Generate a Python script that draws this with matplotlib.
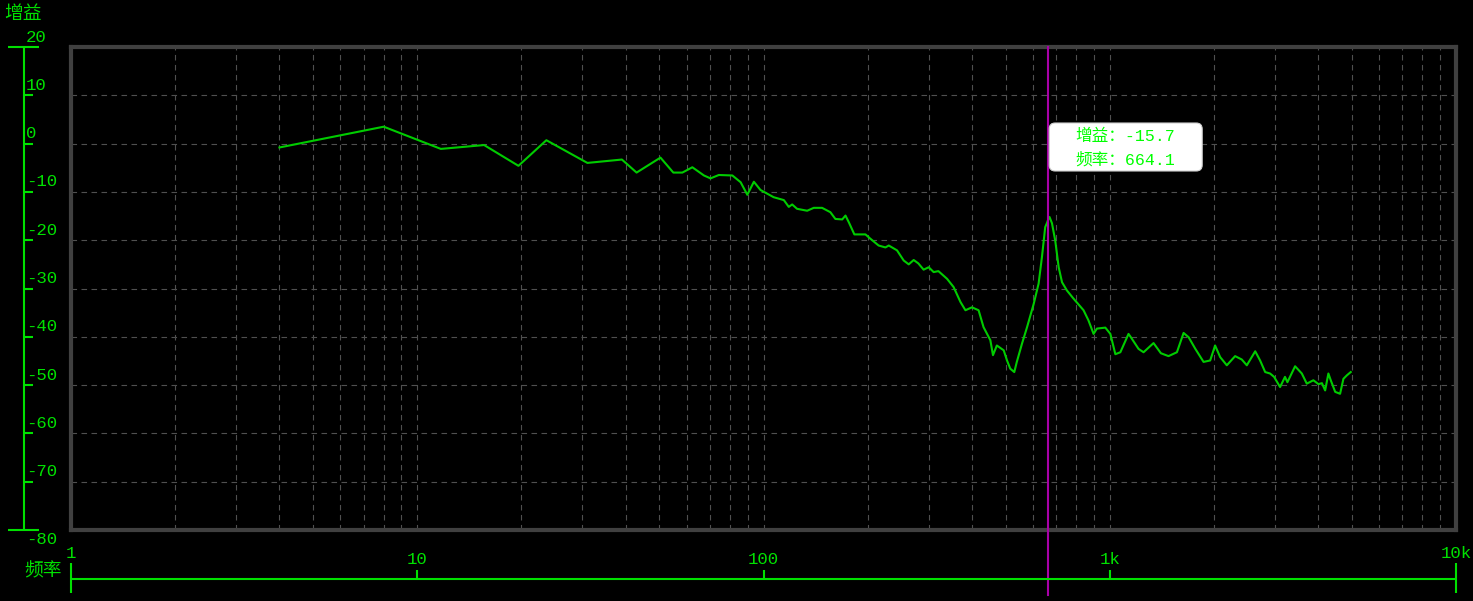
import matplotlib
matplotlib.use('Agg')
import matplotlib.pyplot as plt
from matplotlib.patches import FancyBboxPatch
from matplotlib.transforms import IdentityTransform

# ---------------- data ----------------
freq = [4, 8, 11.7, 15.6, 19.6, 23.6, 31, 39, 43, 50.4, 54.9, 58.3, 62.3, 67.3,
        70.3, 74.3, 81.3, 85.9, 89.8, 93.8, 98, 107, 114.5, 118.3, 121, 125,
        133.7, 139.7, 147.6, 156, 161.3, 168.8, 172.5, 176.4, 183, 197, 203.6,
        215, 225, 230, 243, 254, 262.7, 271.5, 280, 290, 300, 310, 320, 339,
        354, 370.6, 383, 400, 418, 432, 452, 460, 472, 494, 505, 516, 530, 539,
        558, 577, 603, 623, 637, 651, 659, 664.1, 670, 681, 696, 712, 728, 752,
        786, 822, 840, 868, 898, 918, 971, 1004, 1038, 1073, 1133, 1151, 1211,
        1252, 1338, 1405, 1478, 1563, 1634, 1690, 1767, 1866, 1950, 2015, 2084,
        2178, 2302, 2406, 2488, 2631, 2718, 2811, 2904, 2983, 3104, 3207, 3259,
        3430, 3587, 3707, 3873, 4006, 4100, 4189, 4280, 4348, 4478, 4626, 4730,
        4836, 4966]
gain = [-0.8, 3.5, -1.1, -0.3, -4.6, 0.7, -4.0, -3.3, -6.0, -2.9, -6.0, -6.0,
        -4.9, -6.6, -7.2, -6.5, -6.6, -8.0, -10.6, -7.9, -9.6, -11.1, -11.7,
        -13.1, -12.6, -13.5, -13.9, -13.3, -13.3, -14.2, -15.6, -15.7, -14.9,
        -16.3, -18.8, -18.8, -19.7, -21.1, -21.5, -21.1, -22.1, -24.2, -25.0,
        -24.1, -24.8, -26.1, -25.6, -26.6, -26.4, -28.0, -29.7, -32.8, -34.5,
        -33.9, -34.5, -38.0, -40.7, -43.8, -41.8, -42.8, -44.9, -46.6, -47.3,
        -45.2, -41.4, -38.0, -33.2, -29.0, -23.5, -17.3, -16.4, -15.7, -15.2,
        -16.5, -20.1, -25.6, -28.7, -30.4, -32.1, -33.7, -34.5, -36.6, -39.4,
        -38.3, -38.1, -39.4, -43.6, -43.2, -39.4, -40.1, -42.5, -43.2, -41.3,
        -43.4, -44.0, -43.2, -39.2, -40.1, -42.5, -45.2, -44.9, -41.8, -44.2,
        -45.9, -44.0, -44.7, -45.9, -43.0, -44.9, -47.3, -47.6, -48.3, -50.4,
        -48.3, -49.4, -46.1, -47.6, -49.7, -49.0, -49.8, -49.6, -51.1, -47.6,
        -49.0, -51.4, -51.8, -48.7, -48.0, -47.3]
marker_freq = 664.1
marker_gain = -15.7
y_ticks = [20, 10, 0, -10, -20, -30, -40, -50, -60, -70, -80]
x_ticks = [1, 10, 100, 1000, 10000]
x_ticklabels = ['1', '10', '100', '1k', '10k']
y_title = '增益'
x_title = '频率'

# ---------------- style ----------------
W, H, DPI = 1473, 601, 100
GREEN = '#00e000'
CURVE = '#00cc00'
FRAME = '#404040'
GRID = '#505050'
PURPLE = '#a800a8'
NUMFONT = ['Liberation Mono', 'Noto Sans CJK SC']
CJKFONT = ['Noto Sans CJK SC', 'DejaVu Sans']

fig = plt.figure(figsize=(W / DPI, H / DPI), dpi=DPI, facecolor='black')


def px_rect(x0, y0, x1, y1):
    return [x0 / W, 1 - y1 / H, (x1 - x0) / W, (y1 - y0) / H]


# main plot
ax = fig.add_axes(px_rect(71, 47, 1456, 530))
ax.set_facecolor('black')
ax.set_xscale('log')
ax.set_xlim(x_ticks[0], x_ticks[-1])
ax.set_ylim(min(y_ticks), max(y_ticks))
ax.set_xticks(x_ticks)
ax.set_xticks([m * d for d in x_ticks[:-1] for m in range(2, 10)], minor=True)
ax.set_yticks(y_ticks)
ax.tick_params(which='both', length=0, labelbottom=False, labelleft=False)
ax.grid(which='both', color=GRID, linestyle=(0, (5, 4)), linewidth=0.8)
for s in ax.spines.values():
    s.set_color(FRAME)
    s.set_linewidth(3)
ax.plot(freq, gain, color=CURVE, lw=1.5, zorder=3)
ax.axvline(marker_freq, ymin=-(595 - 530) / 483, ymax=1, color=PURPLE,
           lw=1.5, clip_on=False, zorder=4)

# left gain axis
ay = fig.add_axes(px_rect(0, 47, 70, 530))
ay.set_xlim(0, 70)
ay.set_ylim(min(y_ticks), max(y_ticks))
ay.axis('off')
ay.vlines(24, min(y_ticks), max(y_ticks), color=GREEN, lw=1.5, clip_on=False)
ay.hlines([max(y_ticks), min(y_ticks)], 8, 39, color=GREEN, lw=1.5, clip_on=False)
ay.hlines(y_ticks[1:-1], 24, 33, color=GREEN, lw=1.5, clip_on=False)
for v in y_ticks:
    off = -9 if v == min(y_ticks) else 10
    ay.annotate(str(v), xy=(26, v), xytext=(0, off), textcoords='offset pixels',
                ha='left', va='center', color=GREEN, fontsize=12.5, family=NUMFONT)
fig.text(23 / W, 1 - 14 / H, y_title, color=GREEN, fontsize=13.5,
         family=CJKFONT, ha='center', va='center')

# bottom frequency axis
axx = fig.add_axes(px_rect(71, 540, 1456, 600))
axx.set_xscale('log')
axx.set_xlim(x_ticks[0], x_ticks[-1])
axx.set_ylim(600, 540)
axx.axis('off')
axx.hlines(578.7, x_ticks[0], x_ticks[-1], color=GREEN, lw=1.5, clip_on=False)
axx.vlines([x_ticks[0], x_ticks[-1]], 563, 593, color=GREEN, lw=1.5, clip_on=False)
axx.vlines(x_ticks[1:-1], 570, 578.7, color=GREEN, lw=1.5, clip_on=False)
for xv, lab in zip(x_ticks, x_ticklabels):
    yy = 553 if xv in (x_ticks[0], x_ticks[-1]) else 559
    axx.text(xv, yy, lab, ha='center', va='center', color=GREEN, fontsize=12.5,
             family=NUMFONT)
fig.text(43 / W, 1 - 571 / H, x_title, color=GREEN, fontsize=13.5,
         family=CJKFONT, ha='center', va='center')

# tooltip box
mx = ax.transData.transform((marker_freq, 0))[0]
bx0, by0, bx1, by1 = mx + 1, H - 171, mx + 154, H - 123
box = FancyBboxPatch((bx0, by0), bx1 - bx0, by1 - by0,
                     boxstyle='round,pad=0,rounding_size=6',
                     facecolor='white', edgecolor='#d0d0d0', lw=0.8,
                     transform=IdentityTransform(), zorder=10)
fig.add_artist(box)
fig.text((mx + 77) / W, 1 - 136.5 / H, f'增益：{marker_gain}', color='#00ff00',
         fontsize=12, family=NUMFONT, ha='center', va='center', zorder=11)
fig.text((mx + 77) / W, 1 - 159.5 / H, f'频率：{marker_freq}', color='#00ff00',
         fontsize=12, family=NUMFONT, ha='center', va='center', zorder=11)

fig.savefig('out.png', dpi=DPI, facecolor='black')
